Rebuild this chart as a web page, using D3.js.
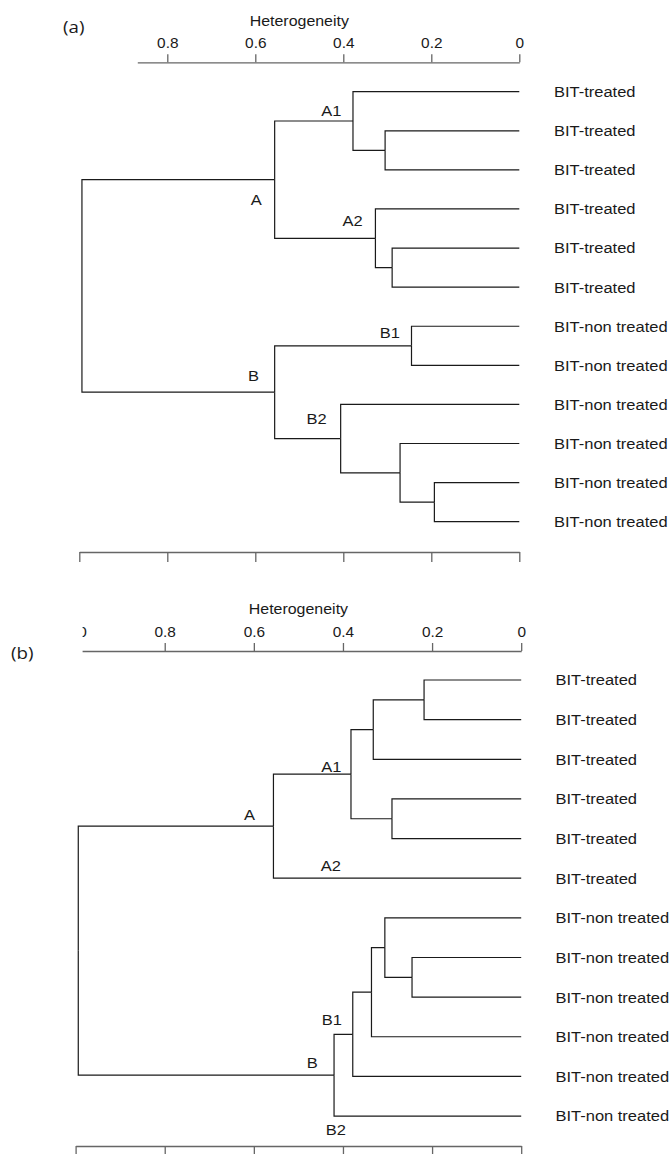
<!DOCTYPE html>
<html>
<head>
<meta charset="utf-8">
<script src="https://cdn.jsdelivr.net/npm/d3@7"></script>
<style>
  body { margin: 0; background: #fff; }
  svg { display: block; }
</style>
</head>
<body>
<div id="chart"></div>
<script>
// ---- data ----
// leaf labels, top to bottom (same in both panels)
const leaves = [
  "BIT-treated", "BIT-treated", "BIT-treated", "BIT-treated", "BIT-treated", "BIT-treated",
  "BIT-non treated", "BIT-non treated", "BIT-non treated", "BIT-non treated", "BIT-non treated", "BIT-non treated"
];
const axisTicks = [1, 0.8, 0.6, 0.4, 0.2, 0];

// merges, hclust style: negative = leaf (1-based), positive = earlier merge (1-based)
const mergesA = [[-2, -3], [-1, 1], [-5, -6], [-4, 3], [2, 4], [-11, -12], [-10, 6], [-9, 7], [-7, -8], [9, 8], [5, 10]];
const heightsA = [0.305, 0.378, 0.289, 0.327, 0.556, 0.193, 0.271, 0.406, 0.245, 0.556, 0.994];

const mergesB = [[-1, -2], [1, -3], [-4, -5], [2, 3], [4, -6], [-8, -9], [-7, 6], [7, -10], [8, -11], [9, -12], [5, 10]];
const heightsB = [0.218, 0.332, 0.29, 0.382, 0.556, 0.245, 0.306, 0.336, 0.378, 0.42, 0.994];

// cluster annotations: name, heterogeneity and leaf-row where the text sits
const clusterNames = ["A1", "A", "A2", "B1", "B", "B2"];
const clusterHA = [0.427, 0.598, 0.379, 0.294, 0.604, 0.461];
const clusterRowA = [0.48, 2.76, 3.31, 6.16, 7.26, 8.36];
const clusterHB = [0.426, 0.610, 0.427, 0.425, 0.469, 0.416];
const clusterRowB = [2.19, 3.39, 4.67, 8.56, 9.65, 11.35];

// ---- layout ----
const W = 671, H = 1154;
const SANS = "'Liberation Sans', Arial, Helvetica, sans-serif";
const INK = "#1a1a1a";

const panels = [
  { id: "a", tag: "(a)", merges: mergesA, heights: heightsA, cH: clusterHA, cRow: clusterRowA,
    x0: 519.3, unit: 440, row0: 91.7, rowStep: 39.09, axisY: 62.3, bottomY: 552,
    clipX: 137.8, labelX: 554, tagX: 63, tagY: 33 },
  { id: "b", tag: "(b)", merges: mergesB, heights: heightsB, cH: clusterHB, cRow: clusterRowB,
    x0: 521.2, unit: 445.6, row0: 680, rowStep: 39.64, axisY: 651, bottomY: 1146,
    clipX: 82.6, labelX: 555.5, tagX: 11, tagY: 659 }
];

const svg = d3.select("#chart").append("svg")
  .attr("width", W)
  .attr("height", H);
svg.append("rect").attr("width", W).attr("height", H).attr("fill", "#fff");

// text in the figure is a bit wider than Arial, so stretch it slightly
function addText(g, str, px, py, o = {}) {
  return g.append("text")
    .attr("transform", `translate(${px},${py}) scale(1.1,1)`)
    .attr("text-anchor", o.anchor || "start")
    .attr("dy", o.dy || 0)
    .attr("font-family", o.font || SANS)
    .attr("font-size", o.size || 15)
    .attr("fill", INK)
    .text(str);
}

const drawPanel = p => {
  const g = svg.append("g");
  const x = d3.scaleLinear().domain([0, 1]).range([p.x0, p.x0 - p.unit]);
  const y = d3.scalePoint()
    .domain(d3.range(leaves.length))
    .range([p.row0, p.row0 + (leaves.length - 1) * p.rowStep]);

  // node positions
  const nodes = [];
  const pos = ref => ref < 0 ? { x: x(0), y: y(-ref - 1) } : nodes[ref - 1];
  p.merges.forEach((m, i) => {
    const kids = m.map(pos);
    nodes.push({ x: x(p.heights[i]), y: d3.mean(kids, k => k.y), kids });
  });

  // elbow links
  const links = nodes.flatMap(n => n.kids.map(k => ({ s: n, t: k })));
  g.append("g")
    .selectAll("path")
    .data(links)
    .join("path")
    .attr("d", d => `M${d.s.x},${d.s.y}V${d.t.y}H${d.t.x}`)
    .attr("fill", "none")
    .attr("stroke", INK)
    .attr("stroke-width", 1.2);

  // top axis (left end is cut off in the figure)
  g.append("clipPath").attr("id", "clip-" + p.id)
    .append("rect")
    .attr("x", p.clipX).attr("y", -40)
    .attr("width", W).attr("height", 60);

  const top = g.append("g")
    .attr("transform", "translate(0," + p.axisY + ")")
    .attr("clip-path", "url(#clip-" + p.id + ")")
    .call(d3.axisTop(x)
      .tickValues(axisTicks)
      .tickSize(8)
      .tickSizeOuter(0)
      .tickPadding(6)
      .tickFormat(d => d === 0 ? "0" : d3.format(".1f")(d)));
  top.attr("font-family", SANS).attr("font-size", 14);
  top.selectAll("path, line").attr("stroke", "#666").attr("stroke-width", 1.3);
  top.selectAll("text").attr("fill", INK).attr("transform", "scale(1.1,1)");

  addText(g, "Heterogeneity", x(0.5), p.axisY - 36.6, { anchor: "middle", size: 14.5 });

  // bottom axis, ticks only
  const bottom = g.append("g")
    .attr("transform", "translate(0," + p.bottomY + ")")
    .call(d3.axisBottom(x)
      .tickValues(axisTicks)
      .tickSize(10)
      .tickSizeOuter(0)
      .tickFormat(""));
  bottom.selectAll("path, line").attr("stroke", "#666").attr("stroke-width", 1.3);
  bottom.selectAll("text").remove();

  // leaf labels
  leaves.forEach((name, i) => {
    addText(g, name, p.labelX, y(i), { dy: "0.36em" });
  });

  // cluster names
  const rowY = d3.scaleLinear().domain([0, 1]).range([p.row0, p.row0 + p.rowStep]);
  clusterNames.forEach((name, i) => {
    addText(g, name, x(p.cH[i]), rowY(p.cRow[i]), { anchor: "middle", dy: "0.36em" });
  });

  // panel tag
  addText(g, p.tag, p.tagX, p.tagY, { font: "'Open Sans', sans-serif", size: 17 });
};

panels.forEach(drawPanel);
</script>
</body>
</html>
